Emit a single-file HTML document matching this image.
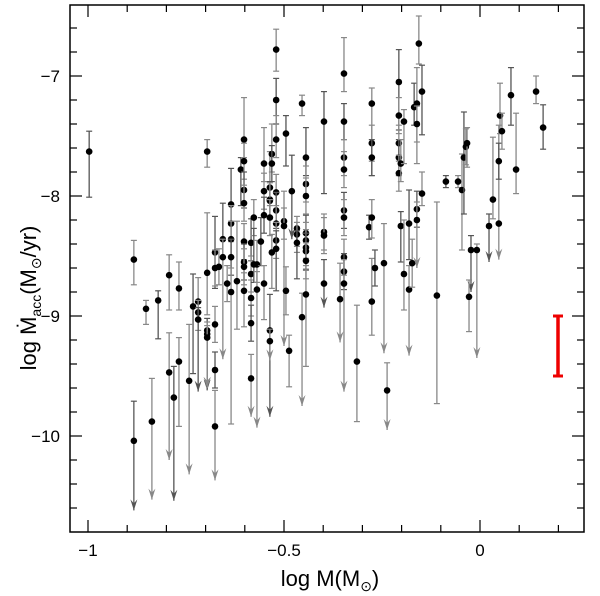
<!DOCTYPE html>
<html><head><meta charset="utf-8"><style>
html,body{margin:0;padding:0;background:#fff}
svg{display:block;font-family:"Liberation Sans",sans-serif}
</style></head><body>
<svg id="chart" width="600" height="596" viewBox="0 0 600 596" xmlns="http://www.w3.org/2000/svg">
<g id="marks"></g>
<g id="axes"></g>
<rect x="70" y="5" width="514" height="527" fill="none" stroke="#000" stroke-width="1.5"/>
<line x1="558" y1="316" x2="558" y2="376" stroke="#e00" stroke-width="3.5"/>
<line x1="553" y1="316" x2="563" y2="316" stroke="#e00" stroke-width="3"/>
<line x1="553" y1="376" x2="563" y2="376" stroke="#e00" stroke-width="3"/>
<text x="330" y="586" font-size="22" text-anchor="middle">log  M(M<tspan font-size="14" dy="5">⊙</tspan><tspan dy="-5">)</tspan></text>
<g transform="translate(36,298) rotate(-90)">
<text x="0" y="0" font-size="22" text-anchor="middle">log  Ṁ<tspan font-size="14" dy="5">acc</tspan><tspan dy="-5">(M</tspan><tspan font-size="14" dy="5">⊙</tspan><tspan dy="-5">/yr)</tspan></text>
</g>
</svg>
<script>
const xTicks = [-1, -0.5, 0];
const xTickLabels = ["\u22121", "\u22120.5", "0"];
const yTicks = [-7, -8, -9, -10];
const yTickLabels = ["\u22127", "\u22128", "\u22129", "\u221210"];
const masses = [-0.997,-0.883,-0.852,-0.821,-0.793,-0.768,-0.883,-0.837,-0.793,-0.781,-0.768,-0.742,-0.732,-0.719,-0.719,-0.719,-0.696,-0.696,-0.696,-0.696,-0.696,-0.676,-0.676,-0.676,-0.676,-0.676,-0.666,-0.656,-0.656,-0.645,-0.635,-0.635,-0.635,-0.635,-0.635,-0.620,-0.610,-0.602,-0.602,-0.602,-0.602,-0.602,-0.602,-0.602,-0.602,-0.584,-0.584,-0.584,-0.584,-0.584,-0.577,-0.577,-0.569,-0.569,-0.559,-0.551,-0.551,-0.551,-0.551,-0.536,-0.536,-0.536,-0.536,-0.536,-0.536,-0.531,-0.531,-0.531,-0.520,-0.520,-0.520,-0.520,-0.520,-0.520,-0.520,-0.520,-0.500,-0.500,-0.495,-0.495,-0.487,-0.480,-0.467,-0.467,-0.467,-0.454,-0.454,-0.444,-0.444,-0.444,-0.444,-0.444,-0.444,-0.444,-0.444,-0.444,-0.398,-0.398,-0.398,-0.398,-0.357,-0.347,-0.347,-0.347,-0.347,-0.347,-0.347,-0.347,-0.347,-0.347,-0.314,-0.283,-0.276,-0.276,-0.276,-0.276,-0.276,-0.268,-0.245,-0.237,-0.207,-0.207,-0.207,-0.207,-0.207,-0.202,-0.202,-0.194,-0.194,-0.181,-0.181,-0.173,-0.168,-0.161,-0.161,-0.161,-0.161,-0.156,-0.148,-0.148,-0.110,-0.087,-0.056,-0.046,-0.041,-0.036,-0.033,-0.023,-0.028,-0.008,0.023,0.033,0.048,0.048,0.051,0.056,0.079,0.092,0.143,0.161];
const rates = [-7.63,-8.53,-8.94,-8.87,-8.66,-8.77,-10.04,-9.88,-9.47,-9.68,-9.38,-9.54,-8.92,-8.88,-8.97,-9.03,-7.63,-8.64,-9.12,-9.15,-9.18,-8.47,-8.60,-9.07,-9.45,-9.92,-8.59,-8.36,-8.51,-8.73,-8.07,-8.23,-8.36,-8.51,-8.80,-8.71,-7.78,-7.53,-7.71,-7.95,-8.06,-8.38,-8.55,-8.59,-8.79,-8.39,-8.65,-8.85,-9.06,-9.52,-8.18,-8.57,-8.57,-8.78,-8.38,-7.73,-7.96,-8.16,-8.73,-7.93,-8.03,-8.04,-8.18,-9.12,-9.21,-7.65,-7.73,-8.47,-6.78,-7.20,-7.53,-7.97,-8.12,-8.23,-8.37,-8.44,-8.21,-8.25,-7.48,-8.79,-9.29,-7.96,-8.27,-8.32,-8.39,-7.23,-9.01,-7.68,-7.90,-8.00,-8.31,-8.37,-8.43,-8.46,-8.54,-8.82,-7.38,-8.30,-8.33,-8.73,-8.86,-6.98,-7.38,-7.68,-7.78,-8.12,-8.18,-8.51,-8.63,-8.73,-9.38,-8.26,-7.23,-7.56,-7.68,-8.18,-8.88,-8.60,-8.56,-9.62,-7.05,-7.33,-7.56,-7.68,-7.81,-7.73,-8.25,-7.38,-8.65,-8.23,-8.78,-8.56,-7.26,-7.23,-7.40,-8.11,-8.20,-6.73,-7.13,-7.98,-8.83,-7.88,-7.88,-7.95,-7.68,-7.59,-7.56,-8.45,-8.84,-8.45,-8.25,-8.03,-8.23,-7.71,-7.33,-7.46,-7.16,-7.78,-7.13,-7.43];
const errUp = [0.17,0.16,0.07,0.08,0.17,0.22,0.33,0.36,0.33,0.26,0.2,0.47,0.27,0.2,0.1,0.1,0.1,0.5,0.1,0.1,0.1,0.3,0.15,0.15,0.15,0.3,0.15,0.3,0.15,0.15,0.3,0.15,0.15,0.15,0.2,0.5,0.1,0.35,0.15,0.15,0.15,0.15,0.15,0.15,0.15,0.2,0.15,0.15,0.15,0.2,0.15,0.3,0.2,0.15,0.2,0.3,0.15,0.15,0.15,0.3,0.15,0.15,0.15,0.3,0.1,0.25,0.15,0.15,0.17,0.18,0.2,0.15,0.15,0.15,0.15,0.15,0.25,0.15,0.15,0.2,0.13,0.3,0.1,0.1,0.1,0.07,0.2,0.25,0.15,0.15,0.15,0.15,0.15,0.15,0.15,0.2,0.25,0.15,0.15,0.2,0.3,0.3,0.15,0.15,0.15,0.15,0.15,0.15,0.15,0.2,0.47,0.1,0.13,0.15,0.15,0.15,0.36,0.15,0.33,0.23,0.27,0.15,0.15,0.15,0.15,0.2,0.12,0.1,0.45,0.28,0.2,0.2,0.2,0.3,0.15,0.15,0.15,0.23,0.22,0.18,0.78,0.05,0.05,0.3,0.38,0.15,0.13,0.12,0.14,0.05,0.1,0.52,0.82,0.15,0.27,0.15,0.23,0.47,0.13,0.19];
const errDown = [0.38,0.21,0.13,0.32,0.29,0.18,0.58,0.65,0.73,0.86,0.54,0.78,0.56,0.15,0.15,0.6,0.13,0.35,0.5,0.45,0.42,0.3,0.15,0.15,0.15,0.45,0.15,0.15,0.85,0.15,0.15,0.15,0.15,0.15,1.1,0.4,0.3,0.15,0.15,0.15,0.15,0.15,0.15,0.15,0.3,0.15,0.15,0.15,0.15,0.32,0.15,0.15,0.15,1.15,0.2,0.15,0.15,0.15,0.3,0.15,0.15,0.15,0.15,0.72,0.16,0.15,0.15,0.3,0.18,0.2,0.15,0.15,0.15,0.15,0.15,0.35,0.15,1.0,0.27,0.2,0.3,0.4,0.15,0.15,0.3,0.1,0.74,0.15,0.15,0.15,0.15,0.15,0.15,0.15,0.15,0.6,0.6,0.15,0.15,0.2,0.36,0.15,0.15,0.15,0.15,0.15,0.15,0.15,0.15,0.9,0.5,0.1,0.6,0.15,0.15,0.17,0.28,0.15,0.75,0.33,0.4,0.15,0.15,0.15,0.15,0.15,0.3,0.35,0.3,0.3,0.55,0.2,0.15,0.5,0.15,0.15,0.4,0.17,0.36,0.1,0.9,0.05,0.05,0.5,0.47,0.15,0.2,0.35,0.29,0.9,0.3,0.16,0.3,0.15,0.15,0.15,0.25,0.2,0.1,0.18];
const limits = [0,0,0,0,0,0,1,1,1,1,0,1,0,0,0,1,0,0,1,1,1,0,0,0,0,1,0,0,1,0,0,0,0,0,0,0,0,0,0,0,0,0,0,0,0,0,0,0,0,1,0,0,0,1,0,0,0,0,0,0,0,0,0,1,1,0,0,0,0,0,0,0,0,0,0,0,0,1,0,0,0,1,0,0,0,0,1,0,0,0,0,0,0,0,0,0,0,0,0,1,1,0,0,0,0,0,0,0,0,1,0,0,0,0,0,0,0,0,1,1,0,0,0,0,0,0,0,0,0,0,1,0,0,0,0,0,1,0,0,0,0,0,0,0,0,0,0,1,0,1,1,0,1,0,0,0,0,0,0,0];

const NS = "http://www.w3.org/2000/svg";
const X0 = 70, X1 = 584, Y0 = 5, Y1 = 532;
function xScale(m){ return 480 + m * 392; }
function yScale(v){ return 316 - (v + 9) * 120; }
function mk(tag, attrs, parent){
  const e = document.createElementNS(NS, tag);
  for (const k in attrs) e.setAttribute(k, attrs[k]);
  parent.appendChild(e); return e;
}
const axes = document.getElementById('axes');
for (let i = -10; i <= 2; i++) {
  const m = i / 10, x = xScale(m), major = (i % 5 === 0);
  const len = major ? 12 : 7;
  const t1 = mk('line', {x1:x, y1:Y1, x2:x, y2:Y1-len, stroke:'#000', 'stroke-width':1.2}, axes);
  
  
  const t2 = mk('line', {x1:x, y1:Y0, x2:x, y2:Y0+len, stroke:'#000', 'stroke-width':1.2}, axes);
  
  
}
xTicks.forEach((m, i) => {
  const t = mk('text', {x:xScale(m), y:556, 'font-size':17, 'text-anchor':'middle'}, axes);
  t.textContent = xTickLabels[i];
  
  
});
for (let i = 0; i <= 22; i++) {
  const v = -6.6 - i * 0.2, y = yScale(v);
  if (y < Y0 || y > Y1) continue;
  const major = Math.abs(Math.round(v) - v) < 1e-6;
  const len = major ? 12 : 7;
  const t1 = mk('line', {x1:X0, y1:y, x2:X0+len, y2:y, stroke:'#000', 'stroke-width':1.2}, axes);
  
  
  const t2 = mk('line', {x1:X1, y1:y, x2:X1-len, y2:y, stroke:'#000', 'stroke-width':1.2}, axes);
  
  
}
yTicks.forEach((v, i) => {
  const t = mk('text', {x:60, y:yScale(v)+6, 'font-size':17, 'text-anchor':'end'}, axes);
  t.textContent = yTickLabels[i];
  
  
});
const marks = document.getElementById('marks');
masses.forEach((m, i) => {
  const x = xScale(m), y = yScale(rates[i]);
  const yt = yScale(rates[i] + errUp[i]), yb = yScale(rates[i] - errDown[i]);
  const col = (i % 3 === 0) ? '#555' : '#888';
  const g = mk('g', {}, marks);
  
  
  mk('line', {x1:x, y1:yt, x2:x, y2:yb, stroke:col, 'stroke-width':1.3}, g);
  mk('line', {x1:x-3, y1:yt, x2:x+3, y2:yt, stroke:col, 'stroke-width':1.2}, g);
  if (limits[i]) {
    mk('path', {d:`M${x-3.5},${yb-11} L${x},${yb} L${x+3.5},${yb-11} L${x},${yb-7} Z`, fill:col}, g);
  } else {
    mk('line', {x1:x-3, y1:yb, x2:x+3, y2:yb, stroke:col, 'stroke-width':1.2}, g);
  }
  mk('circle', {cx:x, cy:y, r:3.3, fill:'#000'}, g);
});
</script>
</body></html>
